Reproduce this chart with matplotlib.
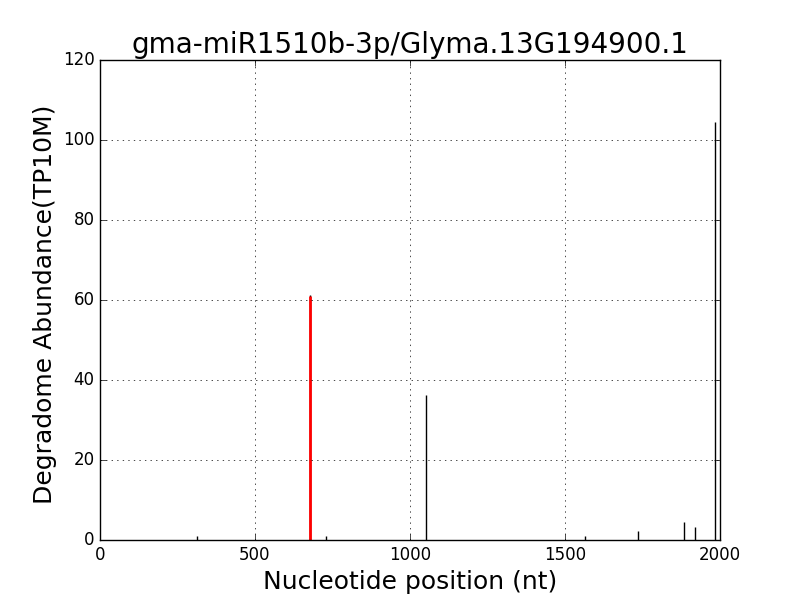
import matplotlib
matplotlib.use('Agg')
import matplotlib.pyplot as plt

positions = [314, 728, 1053, 1566, 1737, 1885, 1920, 1985]
abundance = [1.0, 1.0, 36.2, 1.0, 2.2, 4.4, 3.2, 104.5]
target_pos = 677
target_abund = 61.3

plt.style.use('classic')
fig = plt.figure(figsize=(8, 6), dpi=100)
ax = fig.add_axes([0.125, 0.1, 0.775, 0.8])
ax.vlines(positions, 0, abundance, colors='black', linewidth=1)
ax.vlines([target_pos], 0, [target_abund], colors='black', linewidth=1)
ax.vlines([target_pos], 0, [target_abund - 0.3], colors='red', linewidth=2)
ax.set_xlim(0, 2000)
ax.set_ylim(0, 120)
ax.set_xticks([0, 500, 1000, 1500, 2000])
ax.set_yticks([0, 20, 40, 60, 80, 100, 120])
ax.grid(True, color='black', linestyle=':')
ax.set_title('gma-miR1510b-3p/Glyma.13G194900.1', fontsize=20)
ax.set_xlabel('Nucleotide position (nt)', fontsize=18)
ax.set_ylabel('Degradome Abundance(TP10M)', fontsize=18)
ax.yaxis.set_label_coords(-0.07, 0.49)
ax.tick_params(labelsize=12)
fig.savefig('out.png', dpi=100)
